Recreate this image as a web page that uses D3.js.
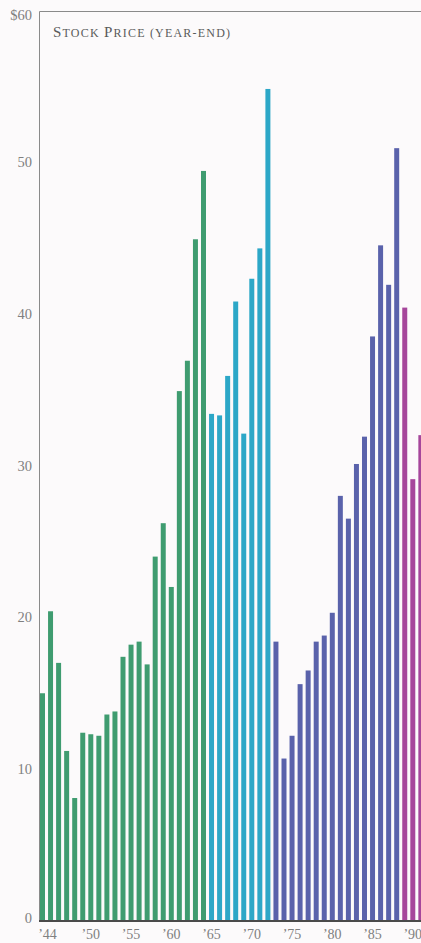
<!DOCTYPE html>
<html>
<head>
<meta charset="utf-8">
<script src="https://cdn.jsdelivr.net/npm/d3@7"></script>
<style>
  html, body { margin: 0; padding: 0; background: #fcfafb; }
  svg { display: block; }
</style>
</head>
<body>
<svg id="chart" width="421" height="943"></svg>
<script>
// ---- data ----
const years = d3.range(1944, 1992);
const prices = [
  15.0, 20.4, 17.0, 11.2, 8.1, 12.4, 12.3, 12.2, 13.6, 13.8,
  17.4, 18.2, 18.4, 16.9, 24.0, 26.2, 22.0, 34.9, 36.9, 44.9,
  49.4, 33.4, 33.3, 35.9, 40.8, 32.1, 42.3, 44.3, 54.8, 18.4,
  10.7, 12.2, 15.6, 16.5, 18.4, 18.8, 20.3, 28.0, 26.5, 30.1,
  31.9, 38.5, 44.5, 41.9, 50.9, 40.4, 29.1, 32.0
];
const eras = [
  { from: 1944, to: 1964, color: "#3f9c70" },
  { from: 1965, to: 1972, color: "#2ca7c7" },
  { from: 1973, to: 1988, color: "#5a62ab" },
  { from: 1989, to: 1991, color: "#a6469b" }
];
const yTicks = [0, 10, 20, 30, 40, 50, 60];
const xTickYears = [1944, 1950, 1955, 1960, 1965, 1970, 1975, 1980, 1985, 1990];
const title = [["S", 15], ["TOCK ", 12], ["P", 15], ["RICE ", 12], ["(YEAR-END)", 12]];

// ---- layout ----
const svg = d3.select("#chart");
const W = 421;
const mLeft = 40, mBottom = 921, mTop = 10;
const step = 8.05, pad = 0.38;

const x = d3.scaleBand()
  .domain(years)
  .range([mLeft, mLeft + step * (years.length - pad)])
  .paddingInner(pad)
  .paddingOuter(0);
const y = d3.scaleLinear().domain([0, 60]).range([mBottom, mTop]);

const colorOf = yr => eras.find(e => yr >= e.from && yr <= e.to).color;

// frame (left + top)
svg.append("path")
  .attr("d", `M${W},11.5H39.5V${mBottom}`)
  .attr("fill", "none")
  .attr("stroke", "#8a8a8a")
  .attr("stroke-width", 1);

// bars
svg.append("g").selectAll("rect")
  .data(years)
  .join("rect")
  .attr("x", d => x(d))
  .attr("width", x.bandwidth())
  .attr("y", (d, i) => y(prices[i]))
  .attr("height", (d, i) => y(0) - 1 - y(prices[i]))
  .attr("fill", d => colorOf(d));

// baseline
svg.append("line")
  .attr("x1", 39).attr("x2", W)
  .attr("y1", mBottom).attr("y2", mBottom)
  .attr("stroke", "#4a4a4a")
  .attr("stroke-width", 1.8);

// y labels
const fontFam = "'Liberation Serif', 'DejaVu Serif', serif";
svg.append("g").selectAll("text")
  .data(yTicks)
  .join("text")
  .attr("x", 32)
  .attr("y", d => y(d) + (d === 60 ? 5 : d === 0 ? -3 : 0))
  .attr("dy", "0.35em")
  .attr("text-anchor", "end")
  .attr("font-family", fontFam)
  .attr("font-size", 14.5)
  .attr("fill", "#808080")
  .text(d => d === 60 ? "$" + d : d);

// x labels
svg.append("g").selectAll("text")
  .data(xTickYears)
  .join("text")
  .attr("x", d => x(d) + x.bandwidth() / 2 + (d === 1944 ? 5 : 0))
  .attr("y", 939)
  .attr("text-anchor", "middle")
  .attr("font-family", fontFam)
  .attr("font-size", 14)
  .attr("fill", "#808080")
  .text(d => "\u2019" + String(d).slice(2));

// title
const t = svg.append("text")
  .attr("x", 53).attr("y", 37)
  .attr("font-family", fontFam)
  .attr("letter-spacing", 1.2)
  .attr("fill", "#5a5a5a");
t.selectAll("tspan").data(title).join("tspan")
  .attr("font-size", d => d[1])
  .text(d => d[0]);
</script>
</body>
</html>
